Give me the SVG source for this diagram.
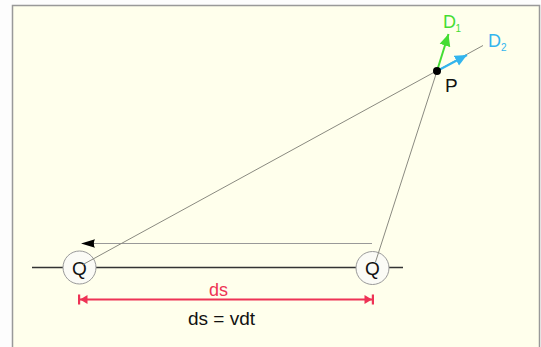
<svg xmlns="http://www.w3.org/2000/svg" width="541" height="347" viewBox="0 0 541 347">
<style>
text{font-family:"Liberation Sans",Arial,sans-serif;}
.thin{stroke:#8a8a80;stroke-width:1;fill:none;}
.lbl{font-size:19px;fill:#111;}
.qc{fill:#fbfbf6;stroke:#999;stroke-width:1;}
.rd{fill:#ee3355;}
</style>
<defs>
<marker id="grn" markerWidth="14" markerHeight="12" refX="12" refY="6" orient="auto" markerUnits="userSpaceOnUse">
<path d="M0,0.5 L12,6 L0,11.5 Z" fill="#44dd33"/>
</marker>
<marker id="blu" markerWidth="14" markerHeight="12" refX="12" refY="6" orient="auto" markerUnits="userSpaceOnUse">
<path d="M0,0.5 L12,6 L0,11.5 Z" fill="#33b5ee"/>
</marker>
</defs>
<rect x="0" y="0" width="541" height="347" fill="#fdfdfd"/>
<rect x="12.5" y="5.5" width="527" height="350" fill="#ffffec" stroke="#999" stroke-width="1.5"/>
<g id="connectors">
<line x1="32" y1="267.5" x2="403" y2="267.5" stroke="#333" stroke-width="1.5"/>
<line x1="372" y1="243.5" x2="92" y2="243.5" stroke="#999" stroke-width="1"/>
<path d="M81,243.5 L95,239.3 Q92.5,243.5 95,247.7 Z" fill="#000"/>
<line x1="80" y1="299.5" x2="372" y2="299.5" stroke="#ee3355" stroke-width="2"/>
<rect class="rd" x="78" y="294.5" width="2.2" height="10"/>
<path class="rd" d="M80,299.5 L87.5,295 L87.5,304 Z"/>
<rect class="rd" x="371.8" y="294.5" width="2.2" height="10"/>
<path class="rd" d="M372,299.5 L364.5,295 L364.5,304 Z"/>
</g>
<g id="Q1">
<circle class="qc" cx="79.5" cy="267.5" r="16.5"/>
<text class="lbl" x="79.5" y="274.5" text-anchor="middle">Q</text>
</g>
<g id="Q2">
<circle class="qc" cx="372.5" cy="268" r="16.5"/>
<text class="lbl" x="372.5" y="275" text-anchor="middle">Q</text>
</g>
<g id="lines">
<line class="thin" x1="83" y1="264.5" x2="483" y2="45.5"/>
<line class="thin" x1="437" y1="71" x2="375.5" y2="262"/>
</g>
<g id="P">
<line x1="437" y1="71" x2="448.5" y2="34" stroke="#44dd33" stroke-width="2" marker-end="url(#grn)"/>
<line x1="437" y1="71" x2="467" y2="55" stroke="#33b5ee" stroke-width="2" marker-end="url(#blu)"/>
<circle cx="437" cy="71" r="4" fill="#000"/>
<text class="lbl" x="445" y="91.5">P</text>
</g>
<g id="D1">
<text x="443" y="28" font-size="18" fill="#44dd33">D</text>
<text x="455.5" y="31.5" font-size="10" fill="#44dd33">1</text>
</g>
<g id="D2">
<text x="488" y="47" font-size="18" fill="#33b5ee">D</text>
<text x="501" y="50.5" font-size="10" fill="#33b5ee">2</text>
</g>
<g id="ds">
<text x="209" y="296" font-size="18" fill="#ee3355">ds</text>
<text x="188" y="325" font-size="19" fill="#111">ds = vdt</text>
</g>
</svg>
